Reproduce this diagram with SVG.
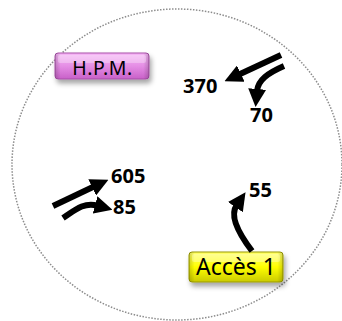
<svg xmlns="http://www.w3.org/2000/svg" width="342" height="321" viewBox="0 0 342 321">
<style>
.lbl{font-family:"Noto Sans","DejaVu Sans",sans-serif;fill:#000}
.num{font-family:"Noto Sans","DejaVu Sans",sans-serif;font-weight:bold;font-size:20px;fill:#000}
.arr{fill:none;stroke:#000;stroke-width:6;stroke-linecap:butt}
</style>
<defs>
<marker id="ah" viewBox="0 0 18 18" refX="2" refY="9" markerWidth="18" markerHeight="18" markerUnits="userSpaceOnUse" orient="auto">
<path d="M0,0 L18,9 L0,18 z" fill="#000"/>
</marker>
<linearGradient id="pink" x1="0" y1="0" x2="0" y2="1">
<stop offset="0" stop-color="#f6b8f6"/>
<stop offset="0.5" stop-color="#e58ee5"/>
<stop offset="1" stop-color="#c860c8"/>
</linearGradient>
<linearGradient id="yel" x1="0" y1="0" x2="0" y2="1">
<stop offset="0" stop-color="#ffff70"/>
<stop offset="0.5" stop-color="#ffff00"/>
<stop offset="1" stop-color="#caca00"/>
</linearGradient>
<linearGradient id="side" x1="0" y1="0" x2="1" y2="0">
<stop offset="0" stop-color="#000" stop-opacity="0.18"/>
<stop offset="0.06" stop-color="#000" stop-opacity="0"/>
<stop offset="0.94" stop-color="#000" stop-opacity="0"/>
<stop offset="1" stop-color="#000" stop-opacity="0.18"/>
</linearGradient>
<filter id="sh" x="-20%" y="-30%" width="140%" height="180%">
<feDropShadow dx="2" dy="4" stdDeviation="2.5" flood-color="#000" flood-opacity="0.35"/>
</filter>
</defs>
<ellipse cx="177" cy="164.5" rx="165" ry="155.5" fill="none" stroke="#8c8c8c" stroke-width="1.5" stroke-dasharray="1.5 1.5"/>
<g id="hpm">
<rect x="55" y="53" width="94" height="26" rx="3" fill="url(#pink)" stroke="#a850a8" stroke-width="1" filter="url(#sh)"/>
<rect x="55" y="53" width="94" height="26" rx="3" fill="url(#side)"/>
<rect x="58" y="55" width="88" height="8" rx="2" fill="#fff" opacity="0.3"/>
<text class="lbl" x="102.5" y="75" font-size="19.5" letter-spacing="0.6" text-anchor="middle">H.P.M.</text>
</g>
<g id="acces1">
<rect x="189" y="252" width="94" height="30" rx="3" fill="url(#yel)" stroke="#9a9a00" stroke-width="1" filter="url(#sh)"/>
<rect x="189" y="252" width="94" height="30" rx="3" fill="url(#side)"/>
<rect x="192" y="254" width="88" height="8" rx="2" fill="#fff" opacity="0.3"/>
<text class="lbl" x="236" y="275" font-size="23" text-anchor="middle">Accès 1</text>
</g>
<g id="connectors">
<path class="arr" d="M281,55 L239,74.5" marker-end="url(#ah)"/>
<path class="arr" d="M284,66 C268,73 258,80 257,91" marker-end="url(#ah)"/>
<path class="arr" d="M53,206 L94,186.5" marker-end="url(#ah)"/>
<path class="arr" d="M63,218 C75,210 84,202 97,205.5" marker-end="url(#ah)"/>
<path class="arr" d="M252,251 C236,230 230,215 236.5,205.5" marker-end="url(#ah)"/>
</g>
<g id="labels">
<text class="num" x="183" y="93">370</text>
<text class="num" x="250" y="122">70</text>
<text class="num" x="111" y="183">605</text>
<text class="num" x="113" y="214">85</text>
<text class="num" x="249" y="197">55</text>
</g>
</svg>
